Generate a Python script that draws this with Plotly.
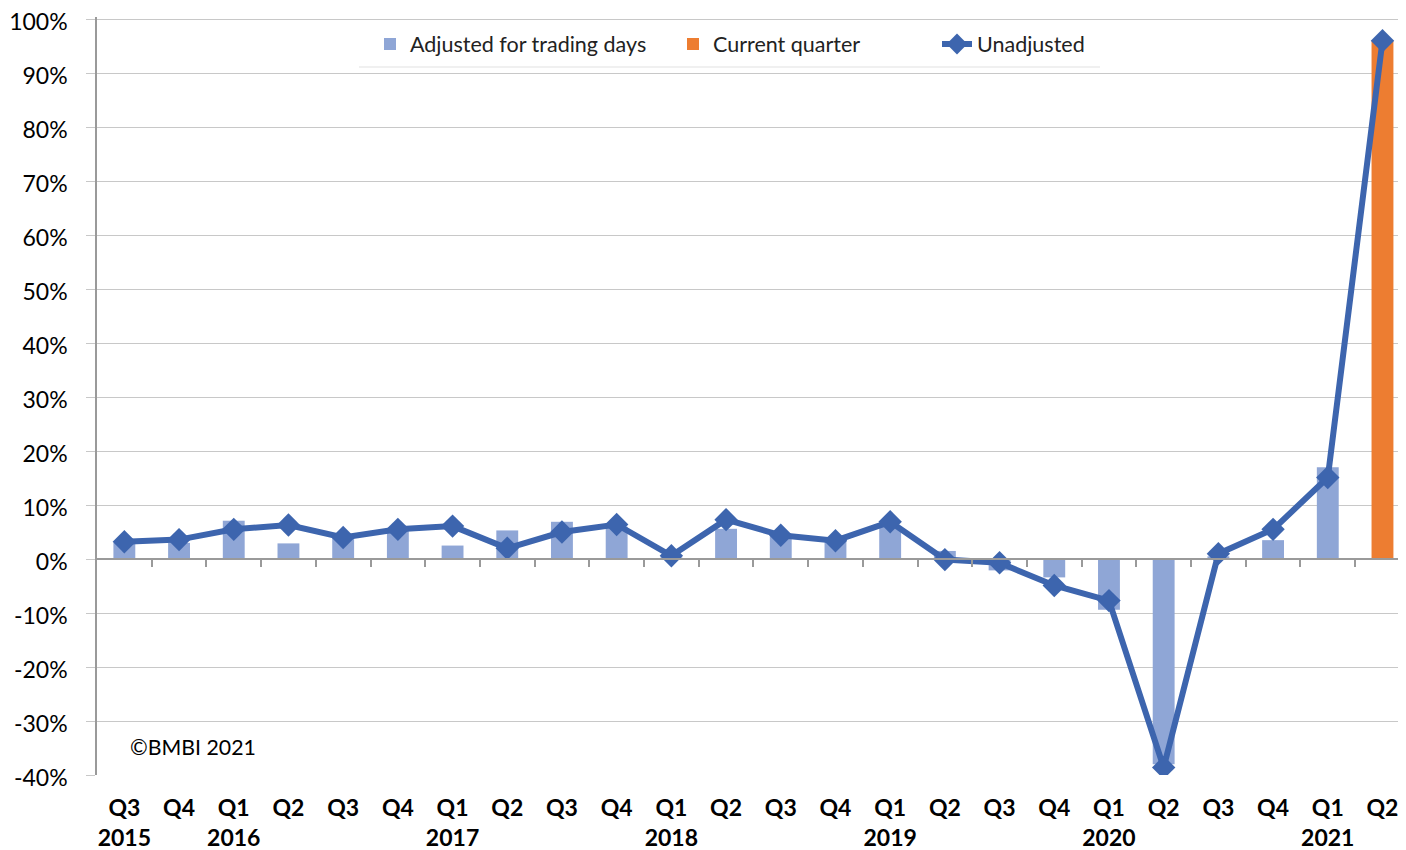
import plotly.graph_objects as go

# ---- data ----
quarters = ["Q3", "Q4", "Q1", "Q2", "Q3", "Q4", "Q1", "Q2", "Q3", "Q4", "Q1", "Q2",
            "Q3", "Q4", "Q1", "Q2", "Q3", "Q4", "Q1", "Q2", "Q3", "Q4", "Q1", "Q2"]
years = ["2015", "", "2016", "", "", "", "2017", "", "", "", "2018", "",
         "", "", "2019", "", "", "", "2020", "", "", "", "2021", ""]
adjusted = [3.0, 3.0, 7.1, 2.9, 4.0, 5.6, 2.5, 5.3, 6.9, 6.0, 0.3, 5.6,
            4.5, 3.5, 6.0, 1.5, -2.1, -3.4, -9.4, -38.0, 0.5, 3.5, 17.0, None]
current_quarter = [None] * 23 + [96.0]
unadjusted = [3.2, 3.6, 5.5, 6.3, 4.0, 5.5, 6.1, 2.0, 5.0, 6.4, 0.6, 7.3,
              4.4, 3.4, 6.9, -0.1, -0.7, -4.9, -7.7, -38.6, 1.0, 5.5, 15.1, 96.0]
y_ticks = list(range(-40, 101, 10))

idx = list(range(len(quarters)))
ticktext = [q + ("<br>" + y if y else "") for q, y in zip(quarters, years)]

BLUE_BAR = "#8FA6D6"
ORANGE = "#ED7D31"
BLUE_LINE = "#3D65AE"
GRID = "#C8C8C8"
AXIS = "#9A9A9A"
FONT = "Lato"

W, H = 1398, 842  # page body has an 8px margin

fig = go.Figure()
fig.add_trace(go.Bar(x=idx, y=adjusted, name="Adjusted for trading days",
                     marker=dict(color=BLUE_BAR, line=dict(width=0)), width=0.4,
                     legend="legend"))
fig.add_trace(go.Bar(x=idx, y=current_quarter, name="Current quarter",
                     marker=dict(color=ORANGE, line=dict(width=0)), width=0.4,
                     legend="legend2"))
fig.add_trace(go.Scatter(x=idx, y=unadjusted, name="Unadjusted", mode="lines+markers",
                         line=dict(color=BLUE_LINE, width=6),
                         marker=dict(symbol="diamond", size=18, color=BLUE_LINE),
                         legend="legend3"))
# invisible trace to activate the zero-line tick axis
fig.add_trace(go.Scatter(x=idx, y=[0] * len(idx), xaxis="x2", mode="none",
                         showlegend=False, hoverinfo="skip"))

n = len(quarters)
Y_TOP = 100.4
fig.update_layout(
    width=W, height=H,
    margin=dict(l=89, r=0, t=9, b=75, autoexpand=False),
    plot_bgcolor="white", paper_bgcolor="white",
    barmode="overlay",
    font=dict(family=FONT, color="#000000"),
    xaxis=dict(range=[-0.5, n - 0.5 - 0.07], tickmode="array", tickvals=idx, ticktext=ticktext,
               showgrid=False, zeroline=False, showline=False, ticks="",
               tickfont=dict(family=FONT, size=23, color="#000000", weight="bold"),
               ticklabelstandoff=17, ticklabeloverflow="allow"),
    xaxis2=dict(overlaying="x", anchor="free", position=40 / (Y_TOP + 40), matches="x",
                tickmode="array", tickvals=[i + 0.5 for i in idx[:-1]],
                showticklabels=False, ticks="outside", ticklen=7, tickcolor=AXIS,
                tickwidth=1.5, showline=True, linecolor=AXIS, linewidth=1.5,
                showgrid=False, zeroline=False),
    yaxis=dict(range=[-40, Y_TOP], tickmode="array", tickvals=y_ticks,
               ticktext=[f"{v}%" for v in y_ticks],
               showgrid=True, gridcolor=GRID, gridwidth=1.2, zeroline=False,
               showline=True, linecolor=AXIS, linewidth=1.5,
               ticks="outside", ticklen=9, tickcolor=GRID, tickwidth=1.2,
               tickfont=dict(family=FONT, size=23, color="#000000"),
               ticklabelstandoff=14, ticklabelshift=3, ticklabeloverflow="allow"),
    showlegend=True,
)

leg_common = dict(orientation="h", xref="container", yref="container", yanchor="middle",
                  xanchor="left", bgcolor="rgba(0,0,0,0)",
                  font=dict(family=FONT, size=21.5, color="#222222"))
fig.update_layout(
    legend=dict(x=362 / W, y=1 - 36 / H, **leg_common),
    legend2=dict(x=665 / W, y=1 - 36 / H, **leg_common),
    legend3=dict(x=929 / W, y=1 - 36 / H, **leg_common),
)

PLOT_H = H - 9 - 75
fig.add_shape(type="line", xref="paper", yref="paper",
              x0=(359 - 97) / 1309, x1=(1100 - 97) / 1309,
              y0=(775 - 67) / PLOT_H, y1=(775 - 67) / PLOT_H,
              line=dict(color="#EBEBEB", width=1.5))

fig.add_annotation(text="©BMBI 2021", xref="paper", yref="paper",
                   x=(128 - 97) / 1309, y=(775 - 747) / PLOT_H,
                   xanchor="left", yanchor="middle", showarrow=False,
                   font=dict(family=FONT, size=21.3, color="#000000"))

fig.write_html("out.html")
